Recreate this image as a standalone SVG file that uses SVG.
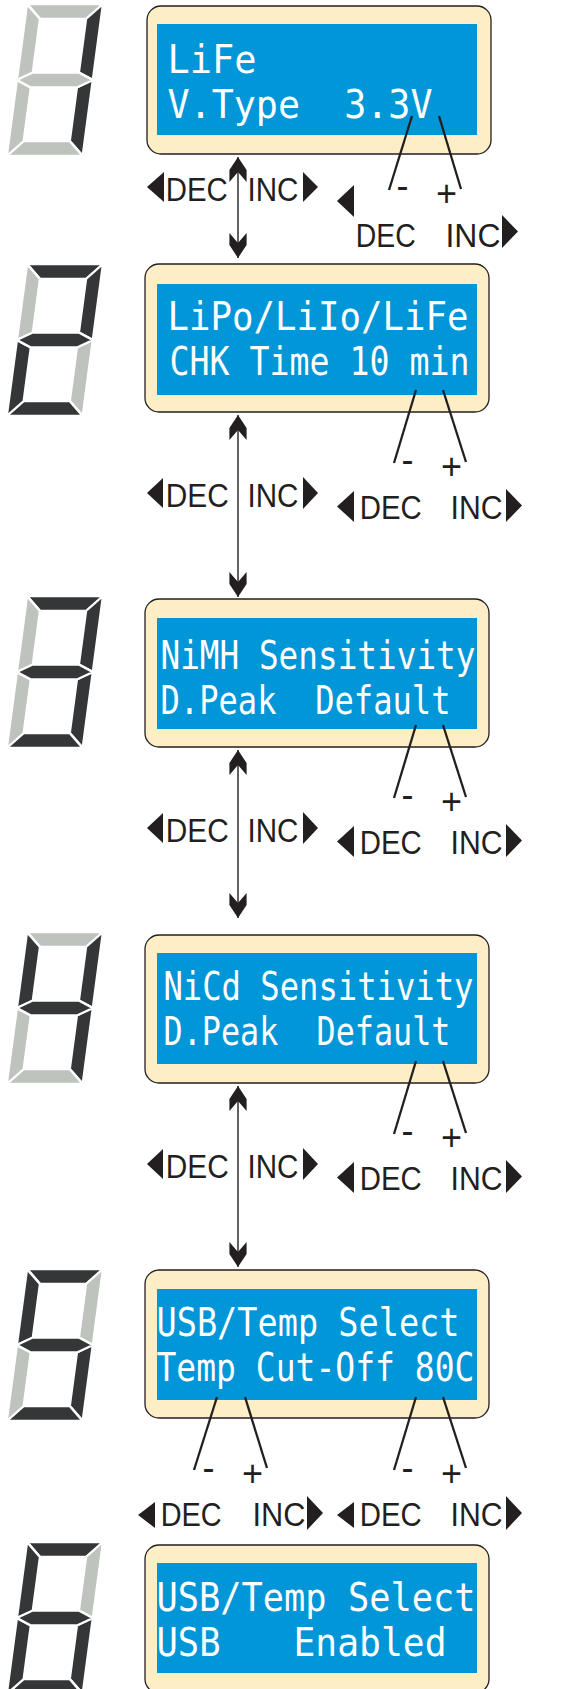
<svg xmlns="http://www.w3.org/2000/svg" xmlns:xlink="http://www.w3.org/1999/xlink" width="569" height="1689" viewBox="0 0 569 1689">
<style>
.on{fill:#353638}
.off{fill:#bec3be}
.seg use{stroke:#fff;stroke-width:2.4;stroke-linejoin:round}
.frame{fill:#fdeec5;stroke:#231f20;stroke-width:1.3}
.screen{fill:#0096d7}
.lcd{font-family:"DejaVu Sans Mono","Liberation Mono",monospace;font-size:38.5px;fill:#ffffff}
.lbl{font-family:"Liberation Sans",Arial,sans-serif;font-size:33px;fill:#231f20}
.sign{font-family:"Liberation Sans",Arial,sans-serif;font-size:36px;fill:#231f20}
.tri{fill:#231f20}
.nav{stroke:#231f20;stroke-width:1.4;fill:none}
.lead{stroke:#231f20;stroke-width:2.3;fill:none}
</style>
<defs>
<polygon id="sa" points="0,0 76,0 61,15 15,15"/>
<polygon id="sb" points="76,0 76,76 61,68.5 61,15"/>
<polygon id="sc" points="76,76 76,152 61,137 61,83.5"/>
<polygon id="sd" points="0,152 15,137 61,137 76,152"/>
<polygon id="se" points="0,76 15,83.5 15,137 0,152"/>
<polygon id="sf" points="0,0 15,15 15,68.5 0,76"/>
<polygon id="sg" points="0,76 15,68.5 61,68.5 76,76 61,83.5 15,83.5"/>
<marker id="aEnd" viewBox="-27 -10 28 20" refX="0" refY="0" markerWidth="28" markerHeight="20" markerUnits="userSpaceOnUse" orient="auto">
<path d="M0,0 L-13,-8.6 L-25,-8.6 L-15,0 L-25,8.6 L-13,8.6 Z" fill="#231f20"/>
</marker>
<marker id="aStart" viewBox="-1 -10 28 20" refX="0" refY="0" markerWidth="28" markerHeight="20" markerUnits="userSpaceOnUse" orient="auto">
<path d="M0,0 L13,-8.6 L25,-8.6 L15,0 L25,8.6 L13,8.6 Z" fill="#231f20"/>
</marker>
</defs>
<rect width="569" height="1689" fill="#ffffff"/>

<!-- Step 1 -->
<g id="step1">
<g class="seg" transform="translate(27,4) skewX(-7.6)">
<use href="#sa" class="off"/><use href="#sb" class="on"/><use href="#sc" class="on"/><use href="#sd" class="off"/><use href="#se" class="off"/><use href="#sf" class="off"/><use href="#sg" class="off"/>
</g>
<rect class="frame" x="147" y="6" width="344" height="148" rx="14"/>
<rect class="screen" x="157" y="24" width="320" height="111"/>
<text class="lcd" xml:space="preserve"><tspan x="167.5" y="73" textLength="89" lengthAdjust="spacingAndGlyphs">LiFe</tspan><tspan x="167.5" y="118" textLength="265" lengthAdjust="spacingAndGlyphs">V.Type  3.3V</tspan></text>
</g>

<!-- Step 2 -->
<g id="step2">
<g class="seg" transform="translate(27,264) skewX(-7.6)">
<use href="#sa" class="on"/><use href="#sb" class="on"/><use href="#sc" class="off"/><use href="#sd" class="on"/><use href="#se" class="on"/><use href="#sf" class="off"/><use href="#sg" class="on"/>
</g>
<rect class="frame" x="145" y="264" width="344" height="148" rx="14"/>
<rect class="screen" x="157" y="284" width="320" height="111"/>
<text class="lcd"><tspan x="167.5" y="330" textLength="301" lengthAdjust="spacingAndGlyphs">LiPo/LiIo/LiFe</tspan><tspan x="169.5" y="375" textLength="300" lengthAdjust="spacingAndGlyphs">CHK Time 10 min</tspan></text>
</g>

<!-- Step 3 -->
<g id="step3">
<g class="seg" transform="translate(27,596) skewX(-7.6)">
<use href="#sa" class="on"/><use href="#sb" class="on"/><use href="#sc" class="on"/><use href="#sd" class="on"/><use href="#se" class="off"/><use href="#sf" class="off"/><use href="#sg" class="on"/>
</g>
<rect class="frame" x="145" y="599" width="344" height="148" rx="14"/>
<rect class="screen" x="157" y="618" width="320" height="111"/>
<text class="lcd" xml:space="preserve"><tspan x="160.5" y="669" textLength="315" lengthAdjust="spacingAndGlyphs">NiMH Sensitivity</tspan><tspan x="160.5" y="714" textLength="290" lengthAdjust="spacingAndGlyphs">D.Peak  Default</tspan></text>
</g>

<!-- Step 4 -->
<g id="step4">
<g class="seg" transform="translate(27,932) skewX(-7.6)">
<use href="#sa" class="off"/><use href="#sb" class="on"/><use href="#sc" class="on"/><use href="#sd" class="off"/><use href="#se" class="off"/><use href="#sf" class="on"/><use href="#sg" class="on"/>
</g>
<rect class="frame" x="145" y="935" width="344" height="148" rx="14"/>
<rect class="screen" x="157" y="953" width="320" height="111"/>
<text class="lcd" xml:space="preserve"><tspan x="163.5" y="1000" textLength="310" lengthAdjust="spacingAndGlyphs">NiCd Sensitivity</tspan><tspan x="163.5" y="1045" textLength="287" lengthAdjust="spacingAndGlyphs">D.Peak  Default</tspan></text>
</g>

<!-- Step 5 -->
<g id="step5">
<g class="seg" transform="translate(27,1269) skewX(-7.6)">
<use href="#sa" class="on"/><use href="#sb" class="off"/><use href="#sc" class="on"/><use href="#sd" class="on"/><use href="#se" class="off"/><use href="#sf" class="on"/><use href="#sg" class="on"/>
</g>
<rect class="frame" x="145" y="1270" width="344" height="148" rx="14"/>
<rect class="screen" x="157" y="1289" width="320" height="111"/>
<text class="lcd"><tspan x="156.5" y="1336" textLength="303" lengthAdjust="spacingAndGlyphs">USB/Temp Select</tspan><tspan x="156.5" y="1381" textLength="318" lengthAdjust="spacingAndGlyphs">Temp Cut-Off 80C</tspan></text>
</g>

<!-- Step 6 -->
<g id="step6">
<g class="seg" transform="translate(27,1542) skewX(-7.6)">
<use href="#sa" class="on"/><use href="#sb" class="off"/><use href="#sc" class="on"/><use href="#sd" class="on"/><use href="#se" class="on"/><use href="#sf" class="on"/><use href="#sg" class="on"/>
</g>
<rect class="frame" x="145" y="1545" width="344" height="148" rx="14"/>
<rect class="screen" x="157" y="1563" width="320" height="110"/>
<text class="lcd"><tspan x="156.5" y="1611" textLength="319" lengthAdjust="spacingAndGlyphs">USB/Temp Select</tspan><tspan x="156.5" y="1656" textLength="64" lengthAdjust="spacingAndGlyphs">USB</tspan><tspan x="293.5" y="1656" textLength="153" lengthAdjust="spacingAndGlyphs">Enabled</tspan></text>
</g>

<!-- Connectors -->
<g id="connectors">
<line class="nav" x1="238" y1="157" x2="238" y2="258" marker-start="url(#aStart)" marker-end="url(#aEnd)"/>
<line class="nav" x1="238" y1="415" x2="238" y2="597" marker-start="url(#aStart)" marker-end="url(#aEnd)"/>
<line class="nav" x1="238" y1="750" x2="238" y2="918" marker-start="url(#aStart)" marker-end="url(#aEnd)"/>
<line class="nav" x1="238" y1="1086" x2="238" y2="1267" marker-start="url(#aStart)" marker-end="url(#aEnd)"/>
<line class="lead" x1="412" y1="116" x2="389" y2="190"/>
<line class="lead" x1="439" y1="116" x2="461" y2="189"/>
<line class="lead" x1="416" y1="390" x2="394" y2="463"/>
<line class="lead" x1="443" y1="390" x2="466" y2="462"/>
<line class="lead" x1="416" y1="725" x2="394" y2="798"/>
<line class="lead" x1="443" y1="725" x2="466" y2="797"/>
<line class="lead" x1="416" y1="1061" x2="394" y2="1134"/>
<line class="lead" x1="443" y1="1061" x2="466" y2="1133"/>
<line class="lead" x1="217" y1="1397" x2="194" y2="1470"/>
<line class="lead" x1="245" y1="1397" x2="267" y2="1468"/>
<line class="lead" x1="416" y1="1397" x2="394" y2="1470"/>
<line class="lead" x1="443" y1="1397" x2="466" y2="1468"/>
</g>

<!-- Labels row 1 -->
<g id="labels1">
<polygon class="tri" points="147,187 164,172 164,202"/>
<text class="lbl" x="165.7" y="201" textLength="62" lengthAdjust="spacingAndGlyphs">DEC</text>
<text class="lbl" x="247.5" y="201" textLength="51" lengthAdjust="spacingAndGlyphs">INC</text>
<polygon class="tri" points="318,187 303,172 303,202"/>
<text class="sign" x="396.4" y="198">-</text>
<text class="sign" x="436" y="206">+</text>
<polygon class="tri" points="337,201 354,185 354,217"/>
<text class="lbl" x="355.7" y="247" textLength="60" lengthAdjust="spacingAndGlyphs">DEC</text>
<text class="lbl" x="445.5" y="247" textLength="55" lengthAdjust="spacingAndGlyphs">INC</text>
<polygon class="tri" points="518,231.5 502,215 502,248"/>
</g>

<!-- Labels row 2 -->
<g id="labels2">
<polygon class="tri" points="147,493 163,478 163,508"/>
<text class="lbl" x="165.7" y="507" textLength="63" lengthAdjust="spacingAndGlyphs">DEC</text>
<text class="lbl" x="247.5" y="507" textLength="51" lengthAdjust="spacingAndGlyphs">INC</text>
<polygon class="tri" points="318,493 303,477 303,509"/>
<text class="sign" x="401.4" y="472">-</text>
<text class="sign" x="441" y="479">+</text>
<polygon class="tri" points="337,506.5 354,491 354,522"/>
<text class="lbl" x="359.7" y="519" textLength="62" lengthAdjust="spacingAndGlyphs">DEC</text>
<text class="lbl" x="450.5" y="519" textLength="52" lengthAdjust="spacingAndGlyphs">INC</text>
<polygon class="tri" points="522,505.5 506,489 506,522"/>
</g>

<!-- Labels row 3 -->
<g id="labels3">
<polygon class="tri" points="147,828 163,813 163,843"/>
<text class="lbl" x="165.7" y="842" textLength="63" lengthAdjust="spacingAndGlyphs">DEC</text>
<text class="lbl" x="247.5" y="842" textLength="51" lengthAdjust="spacingAndGlyphs">INC</text>
<polygon class="tri" points="318,828 303,812 303,844"/>
<text class="sign" x="401.4" y="807">-</text>
<text class="sign" x="441" y="814">+</text>
<polygon class="tri" points="337,841.5 354,826 354,857"/>
<text class="lbl" x="359.7" y="854" textLength="62" lengthAdjust="spacingAndGlyphs">DEC</text>
<text class="lbl" x="450.5" y="854" textLength="52" lengthAdjust="spacingAndGlyphs">INC</text>
<polygon class="tri" points="522,840.5 506,824 506,857"/>
</g>

<!-- Labels row 4 -->
<g id="labels4">
<polygon class="tri" points="147,1164 163,1149 163,1179"/>
<text class="lbl" x="165.7" y="1178" textLength="63" lengthAdjust="spacingAndGlyphs">DEC</text>
<text class="lbl" x="247.5" y="1178" textLength="51" lengthAdjust="spacingAndGlyphs">INC</text>
<polygon class="tri" points="318,1164 303,1148 303,1180"/>
<text class="sign" x="401.4" y="1143">-</text>
<text class="sign" x="441" y="1150">+</text>
<polygon class="tri" points="337,1177.5 354,1162 354,1193"/>
<text class="lbl" x="359.7" y="1190" textLength="62" lengthAdjust="spacingAndGlyphs">DEC</text>
<text class="lbl" x="450.5" y="1190" textLength="52" lengthAdjust="spacingAndGlyphs">INC</text>
<polygon class="tri" points="522,1176.5 506,1160 506,1193"/>
</g>

<!-- Labels row 5 -->
<g id="labels5">
<text class="sign" x="202.4" y="1480">-</text>
<text class="sign" x="242" y="1486">+</text>
<text class="sign" x="401.4" y="1480">-</text>
<text class="sign" x="441" y="1486">+</text>
<polygon class="tri" points="138,1515 155,1502 155,1528"/>
<text class="lbl" x="160.7" y="1526" textLength="61" lengthAdjust="spacingAndGlyphs">DEC</text>
<text class="lbl" x="252.5" y="1526" textLength="53" lengthAdjust="spacingAndGlyphs">INC</text>
<polygon class="tri" points="323,1513 307,1496 307,1530"/>
<polygon class="tri" points="337,1515 354,1502 354,1528"/>
<text class="lbl" x="359.7" y="1526" textLength="62" lengthAdjust="spacingAndGlyphs">DEC</text>
<text class="lbl" x="450.5" y="1526" textLength="52" lengthAdjust="spacingAndGlyphs">INC</text>
<polygon class="tri" points="522,1513 506,1496 506,1530"/>
</g>
</svg>
